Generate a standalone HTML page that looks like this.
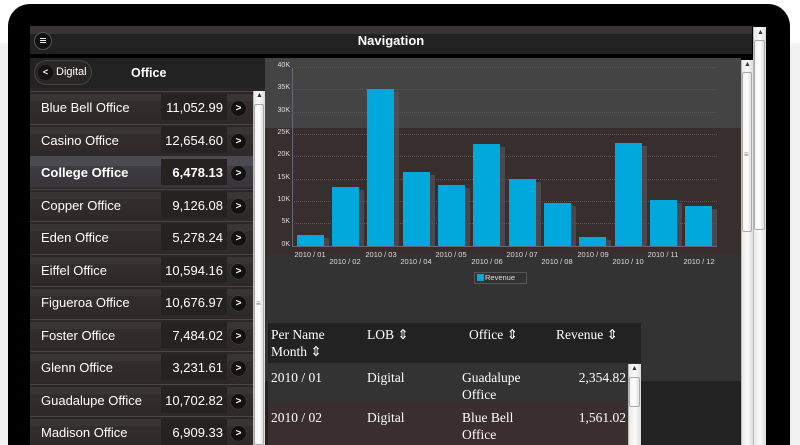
<!DOCTYPE html>
<html style="overflow:hidden;height:445px"><head><style>
*{margin:0;padding:0;box-sizing:border-box}
body{width:800px;height:445px;overflow:hidden;background:#fff;font-family:"Liberation Sans",Arial,sans-serif;position:relative}
.a{position:absolute}
.row{position:absolute;left:30px;width:223px;height:32px;background:linear-gradient(#2b2727 0,#2b2727 2px,#3a3535 2px,#3a3535 9px,#332d2d 9px,#2e2828 100%);border-top:1px solid #4a4646}
.row .n{position:absolute;left:11px;top:8px;color:#fff;font-size:13px}
.row .v{position:absolute;left:131px;top:2px;width:66px;height:26px;background:#262222;color:#fff;font-size:13px;text-align:right;padding:6px 4px 0 0}
.row .c{position:absolute;left:201px;top:9px;width:15px;height:15px;border-radius:50%;background:#111;color:#fff;font-size:10px;font-weight:bold;text-align:center;line-height:15px;box-shadow:0 0 1px #666}
.sb{position:absolute;background:linear-gradient(90deg,#e8e8e8,#fafafa,#dcdcdc);border-left:1px solid #bbb}
.th{position:absolute;background:linear-gradient(90deg,#f4f4f4,#fff,#e0e0e0);border:1px solid #aaa;border-radius:2px}
.bar{position:absolute;width:27px;background:#00a8dc}
.sh{position:absolute;width:27px;background:#55535a;opacity:.7}
.xl{position:absolute;font-size:7.5px;color:#ddd;width:50px;text-align:center}
.yl{position:absolute;left:272px;font-size:7px;color:#ddd;width:18px;text-align:right}
.gl{position:absolute;left:292px;width:425px;height:1px;border-top:1px dotted #5a5656}
.tt{position:absolute;font-family:"Liberation Serif",serif;font-size:13.5px;color:#fff;line-height:17px}
</style></head><body>
<div class="a" style="left:0;top:43px;width:800px;height:402px;background:#f2f2f2"></div>
<div class="a" style="left:8px;top:4px;width:782px;height:441px;background:#000;border-radius:22px 22px 0 0"></div>
<!-- nav -->
<div class="a" style="left:30px;top:26px;width:722px;height:28px;background:linear-gradient(#3a3434 0,#3a3434 8px,#222 8px,#222 100%)"></div>
<div class="a" style="left:35px;top:33px;width:16px;height:16px;border-radius:50%;background:#111;box-shadow:0 0 0 1px #555"></div>
<div class="a" style="left:40px;top:38px;width:6px;height:6px;background:repeating-linear-gradient(#eee 0,#eee 1px,#111 1px,#111 2px)"></div>
<div class="a" style="left:30px;top:33px;width:722px;text-align:center;color:#fff;font-weight:bold;font-size:13px">Navigation</div>
<!-- page scrollbar -->
<div class="sb" style="left:753px;top:27px;width:13px;height:418px"></div>
<div class="a" style="left:757px;top:29px;font-size:7px;color:#333">▲</div>
<div class="th" style="left:754px;top:40px;width:11px;height:190px"></div>
<!-- left header -->
<div class="a" style="left:30px;top:58px;width:235px;height:30px;background:#222"></div>
<div class="a" style="left:35px;top:61px;width:56px;height:23px;border-radius:12px;background:#2a2626;box-shadow:0 0 0 1px #444"></div>
<div class="a" style="left:38px;top:65px;width:15px;height:15px;border-radius:50%;background:#111;color:#fff;font-size:9px;font-weight:bold;text-align:center;line-height:15px">&lt;</div>
<div class="a" style="left:56px;top:66px;color:#fff;font-size:11px">Digital</div>
<div class="a" style="left:131px;top:66px;color:#fff;font-size:12.5px;font-weight:bold">Office</div>
<div class="a" style="left:30px;top:88px;width:235px;height:357px;background:#2a2626"></div>
<div class="row" style="top:91px"><span class="n">Blue Bell Office</span><span class="v">11,052.99</span><span class="c">&gt;</span></div>
<div class="row" style="top:123.5px"><span class="n">Casino Office</span><span class="v">12,654.60</span><span class="c">&gt;</span></div>
<div class="row" style="top:156px;background:linear-gradient(#4a4a50 0,#4a4a50 9px,#3e3c40 9px,#38353a 100%)"><span class="n" style="font-weight:bold">College Office</span><span class="v" style="font-weight:bold">6,478.13</span><span class="c">&gt;</span></div>
<div class="row" style="top:188.5px"><span class="n">Copper Office</span><span class="v">9,126.08</span><span class="c">&gt;</span></div>
<div class="row" style="top:221px"><span class="n">Eden Office</span><span class="v">5,278.24</span><span class="c">&gt;</span></div>
<div class="row" style="top:253.5px"><span class="n">Eiffel Office</span><span class="v">10,594.16</span><span class="c">&gt;</span></div>
<div class="row" style="top:286px"><span class="n">Figueroa Office</span><span class="v">10,676.97</span><span class="c">&gt;</span></div>
<div class="row" style="top:318.5px"><span class="n">Foster Office</span><span class="v">7,484.02</span><span class="c">&gt;</span></div>
<div class="row" style="top:351px"><span class="n">Glenn Office</span><span class="v">3,231.61</span><span class="c">&gt;</span></div>
<div class="row" style="top:383.5px"><span class="n">Guadalupe Office</span><span class="v">10,702.82</span><span class="c">&gt;</span></div>
<div class="row" style="top:416px"><span class="n">Madison Office</span><span class="v">6,909.33</span><span class="c">&gt;</span></div>
<div class="sb" style="left:253px;top:91px;width:12px;height:354px"></div>
<div class="a" style="left:256px;top:92px;font-size:7px;color:#333">▲</div>
<div class="th" style="left:254px;top:104px;width:10px;height:341px"></div>
<div class="a" style="left:256px;top:299px;font-size:8px;color:#777">≡</div>
<!-- chart panel -->
<div class="a" style="left:265px;top:58px;width:476px;height:70px;background:#444"></div>
<div class="a" style="left:265px;top:128px;width:476px;height:127px;background:#382e2e"></div>
<div class="a" style="left:265px;top:255px;width:476px;height:126px;background:#333"></div>
<div class="a" style="left:265px;top:381px;width:476px;height:64px;background:#222"></div>
<div class="sb" style="left:741px;top:60px;width:12px;height:385px"></div>
<div class="a" style="left:744px;top:61px;font-size:7px;color:#333">▲</div>
<div class="th" style="left:742px;top:72px;width:10px;height:160px"></div>
<div class="a" style="left:744px;top:150px;font-size:8px;color:#777">≡</div>
<div class="a" style="left:292px;top:67px;width:1px;height:179px;background:#667"></div>
<div class="gl" style="top:67px"></div><div class="gl" style="top:89px"></div><div class="gl" style="top:112px"></div><div class="gl" style="top:134px"></div><div class="gl" style="top:156px"></div><div class="gl" style="top:179px"></div><div class="gl" style="top:201px"></div><div class="gl" style="top:223px"></div>
<div class="a" style="left:292px;top:246px;width:425px;height:1px;background:#667"></div>
<div class="yl" style="top:62px">40K</div><div class="yl" style="top:84px">35K</div><div class="yl" style="top:107px">30K</div><div class="yl" style="top:129px">25K</div><div class="yl" style="top:151px">20K</div><div class="yl" style="top:174px">15K</div><div class="yl" style="top:196px">10K</div><div class="yl" style="top:218px">5K</div><div class="yl" style="top:241px">0K</div>
<div class="sh" style="left:302px;top:238px;height:8px"></div><div class="bar" style="left:297px;top:235px;height:11px"></div>
<div class="sh" style="left:337px;top:190px;height:56px"></div><div class="bar" style="left:332px;top:187px;height:59px"></div>
<div class="sh" style="left:372px;top:92px;height:154px"></div><div class="bar" style="left:367px;top:89px;height:157px"></div>
<div class="sh" style="left:408px;top:175px;height:71px"></div><div class="bar" style="left:403px;top:172px;height:74px"></div>
<div class="sh" style="left:443px;top:188px;height:58px"></div><div class="bar" style="left:438px;top:185px;height:61px"></div>
<div class="sh" style="left:478px;top:147px;height:99px"></div><div class="bar" style="left:473px;top:144px;height:102px"></div>
<div class="sh" style="left:514px;top:182px;height:64px"></div><div class="bar" style="left:509px;top:179px;height:67px"></div>
<div class="sh" style="left:549px;top:206px;height:40px"></div><div class="bar" style="left:544px;top:203px;height:43px"></div>
<div class="sh" style="left:584px;top:240px;height:6px"></div><div class="bar" style="left:579px;top:237px;height:9px"></div>
<div class="sh" style="left:620px;top:146px;height:100px"></div><div class="bar" style="left:615px;top:143px;height:103px"></div>
<div class="sh" style="left:655px;top:203px;height:43px"></div><div class="bar" style="left:650px;top:200px;height:46px"></div>
<div class="sh" style="left:690px;top:209px;height:37px"></div><div class="bar" style="left:685px;top:206px;height:40px"></div>
<div class="xl" style="left:285px;top:250px">2010 / 01</div><div class="xl" style="left:320px;top:257px">2010 / 02</div>
<div class="xl" style="left:356px;top:250px">2010 / 03</div><div class="xl" style="left:391px;top:257px">2010 / 04</div>
<div class="xl" style="left:426px;top:250px">2010 / 05</div><div class="xl" style="left:462px;top:257px">2010 / 06</div>
<div class="xl" style="left:497px;top:250px">2010 / 07</div><div class="xl" style="left:532px;top:257px">2010 / 08</div>
<div class="xl" style="left:568px;top:250px">2010 / 09</div><div class="xl" style="left:603px;top:257px">2010 / 10</div>
<div class="xl" style="left:638px;top:250px">2010 / 11</div><div class="xl" style="left:674px;top:257px">2010 / 12</div>
<div class="a" style="left:474px;top:272px;width:53px;height:12px;border:1px solid #555"></div>
<div class="a" style="left:477px;top:274px;width:7px;height:7px;background:#00a8dc"></div>
<div class="a" style="left:485px;top:273px;font-size:7.5px;color:#ddd">Revenue</div>
<!-- table -->
<div class="a" style="left:268px;top:323px;width:373px;height:40px;background:#222"></div>
<div class="a" style="left:268px;top:363px;width:373px;height:40px;background:#333"></div>
<div class="a" style="left:268px;top:403px;width:373px;height:42px;background:#3a2e2e"></div>
<div class="tt" style="left:271px;top:326px">Per Name<br>Month ⇕</div>
<div class="tt" style="left:367px;top:326px">LOB ⇕</div>
<div class="tt" style="left:469px;top:326px">Office ⇕</div>
<div class="tt" style="left:556px;top:326px">Revenue ⇕</div>
<div class="tt" style="left:271px;top:369px">2010 / 01</div>
<div class="tt" style="left:367px;top:369px">Digital</div>
<div class="tt" style="left:462px;top:369px">Guadalupe<br>Office</div>
<div class="tt" style="left:560px;top:369px;width:66px;text-align:right">2,354.82</div>
<div class="tt" style="left:271px;top:409px">2010 / 02</div>
<div class="tt" style="left:367px;top:409px">Digital</div>
<div class="tt" style="left:462px;top:409px">Blue Bell<br>Office</div>
<div class="tt" style="left:560px;top:409px;width:66px;text-align:right">1,561.02</div>
<div class="sb" style="left:628px;top:364px;width:13px;height:81px"></div>
<div class="a" style="left:631px;top:365px;font-size:7px;color:#333">▲</div>
<div class="th" style="left:629px;top:377px;width:11px;height:30px"></div>
</body></html>
